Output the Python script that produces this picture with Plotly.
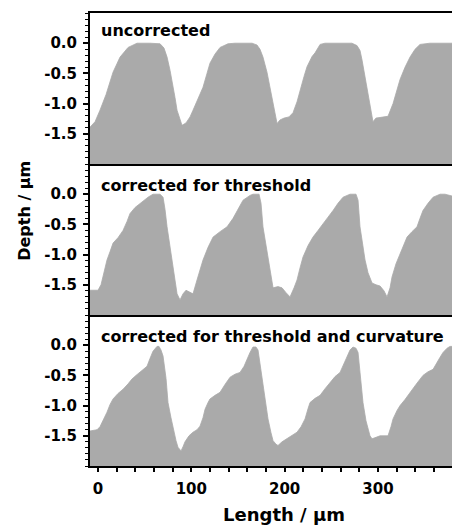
import plotly.graph_objects as go
from plotly.subplots import make_subplots

# ---- data (Length in µm, Depth in µm) ----
x_uncorr = [-8.6, -3.2, 2.1, 8.6, 16.1, 23.6, 32.2, 41.8, 55.7, 66.5, 70.7, 74.0, 77.2, 79.3, 82.5, 84.7,
            87.9, 90.0, 94.3, 98.6, 101.8, 107.2, 112.5, 116.8, 120.0, 125.4, 130.8, 139.3, 146.8, 165.1,
            170.4, 173.6, 176.8, 181.1, 184.3, 188.6, 191.9, 195.1, 199.4, 204.7, 209.0, 213.3, 216.5,
            220.8, 224.0, 229.4, 232.6, 238.0, 243.3, 272.2, 277.6, 280.8, 283.0, 286.2, 288.3, 291.5,
            294.7, 297.9, 304.4, 310.8, 316.2, 320.5, 323.7, 329.0, 334.4, 339.8, 345.1, 355.8, 379.4]
y_uncorr = [-1.39, -1.30, -1.11, -0.85, -0.48, -0.23, -0.07, 0.0, 0.0, -0.01, -0.08, -0.23, -0.45, -0.66,
            -0.90, -1.11, -1.28, -1.36, -1.32, -1.22, -1.11, -0.93, -0.73, -0.50, -0.33, -0.18, -0.07,
            -0.01, 0.0, 0.0, -0.03, -0.10, -0.23, -0.48, -0.73, -1.05, -1.33, -1.27, -1.24, -1.22, -1.15,
            -0.97, -0.78, -0.55, -0.39, -0.22, -0.16, -0.02, 0.0, 0.0, -0.04, -0.12, -0.28, -0.55, -0.78,
            -1.05, -1.30, -1.24, -1.22, -1.21, -1.00, -0.75, -0.60, -0.40, -0.23, -0.10, -0.02, 0.0, 0.0]

x_thresh = [-8.6, 0.0, 3.2, 6.4, 9.6, 12.9, 16.1, 21.4, 26.8, 31.1, 34.3, 39.7, 45.0, 53.6, 58.9, 66.5,
            69.7, 71.8, 74.0, 77.2, 79.3, 82.5, 84.7, 87.9, 91.1, 94.3, 98.6, 101.8, 106.1, 109.3, 112.5,
            117.9, 123.3, 130.8, 138.3, 144.7, 149.0, 155.4, 162.9, 166.1, 172.6, 174.7, 176.8, 180.1,
            182.2, 185.4, 187.6, 192.9, 197.2, 201.5, 205.8, 210.1, 213.3, 216.5, 219.7, 225.1, 230.4,
            235.8, 241.2, 246.5, 251.9, 257.2, 262.6, 270.1, 276.5, 278.7, 280.8, 284.0, 286.2, 289.4,
            293.7, 298.0, 302.3, 306.5, 309.8, 313.0, 315.1, 319.4, 323.7, 328.0, 331.2, 336.5, 341.9,
            345.1, 348.3, 353.7, 359.1, 366.6, 371.9, 379.4]
y_thresh = [-1.59, -1.59, -1.50, -1.30, -1.09, -0.95, -0.81, -0.72, -0.60, -0.45, -0.32, -0.22, -0.15,
            -0.05, 0.0, 0.0, -0.05, -0.25, -0.54, -0.85, -1.09, -1.40, -1.65, -1.75, -1.65, -1.59, -1.62,
            -1.65, -1.42, -1.25, -1.09, -0.88, -0.71, -0.62, -0.54, -0.40, -0.27, -0.10, -0.02, 0.0, 0.0,
            -0.15, -0.54, -0.85, -1.09, -1.35, -1.55, -1.53, -1.55, -1.63, -1.70, -1.55, -1.42, -1.22,
            -1.04, -0.85, -0.71, -0.60, -0.48, -0.38, -0.27, -0.15, -0.05, 0.0, 0.0, -0.10, -0.54, -0.85,
            -1.09, -1.30, -1.47, -1.50, -1.52, -1.60, -1.70, -1.55, -1.37, -1.15, -1.00, -0.82, -0.71,
            -0.62, -0.54, -0.40, -0.27, -0.15, -0.05, 0.0, 0.0, -0.03]

x_curv = [-8.6, -1.1, 2.1, 6.4, 9.6, 12.9, 16.1, 21.4, 26.8, 32.2, 36.4, 40.7, 45.0, 49.3, 52.5, 55.7,
          58.9, 63.2, 65.4, 67.5, 69.7, 72.9, 75.0, 78.2, 80.4, 83.6, 85.7, 89.0, 91.1, 93.2, 97.5, 101.8,
          106.1, 109.3, 112.5, 114.7, 117.9, 120.0, 125.4, 130.8, 136.1, 141.5, 146.8, 152.2, 156.5, 159.7,
          162.9, 166.1, 169.3, 171.5, 173.6, 176.8, 180.1, 182.2, 185.4, 187.6, 190.8, 192.9, 197.2, 202.6,
          207.9, 213.3, 217.6, 221.9, 225.1, 227.2, 232.6, 238.0, 243.3, 248.7, 254.0, 259.4, 263.7, 266.9,
          270.1, 273.3, 276.5, 278.7, 280.8, 284.0, 287.2, 289.4, 291.5, 293.7, 298.0, 302.3, 307.6, 310.8,
          314.0, 316.2, 320.5, 323.7, 329.0, 334.4, 340.8, 348.3, 353.7, 359.1, 363.3, 366.6, 369.8, 374.1,
          377.3, 379.4]
y_curv = [-1.42, -1.40, -1.35, -1.22, -1.11, -0.98, -0.89, -0.80, -0.73, -0.64, -0.56, -0.50, -0.45,
          -0.40, -0.35, -0.22, -0.10, -0.02, -0.02, -0.08, -0.18, -0.55, -0.95, -1.20, -1.38, -1.58, -1.69,
          -1.75, -1.68, -1.60, -1.50, -1.44, -1.40, -1.34, -1.20, -1.06, -0.95, -0.89, -0.83, -0.78, -0.65,
          -0.53, -0.48, -0.45, -0.35, -0.23, -0.12, -0.03, -0.03, -0.08, -0.30, -0.67, -1.00, -1.22, -1.45,
          -1.58, -1.64, -1.66, -1.60, -1.55, -1.50, -1.44, -1.35, -1.22, -1.05, -0.95, -0.88, -0.83, -0.72,
          -0.62, -0.52, -0.45, -0.30, -0.18, -0.08, -0.03, -0.05, -0.12, -0.50, -0.95, -1.25, -1.38, -1.50,
          -1.55, -1.52, -1.50, -1.50, -1.50, -1.35, -1.22, -1.08, -1.00, -0.90, -0.78, -0.65, -0.50, -0.44,
          -0.40, -0.30, -0.20, -0.12, -0.05, -0.02, -0.02]

panel_labels = ["uncorrected", "corrected for threshold", "corrected for threshold and curvature"]
y_tickvals = [0.0, -0.5, -1.0, -1.5]
y_ticktext = ["0.0", "-0.5", "-1.0", "-1.5"]
x_tickvals = [0, 100, 200, 300]
y_floor = -2.0
y_ceil = 0.5
x_range = [-8.6, 379.4]

FILL = "#aaaaaa"
FONT = "DejaVu Sans"

fig = make_subplots(rows=3, cols=1, shared_xaxes=True, vertical_spacing=0)

series = [(x_uncorr, y_uncorr), (x_thresh, y_thresh), (x_curv, y_curv)]
for i, (xs, ys) in enumerate(series, start=1):
    fig.add_trace(go.Scatter(x=xs, y=[y_floor] * len(xs), mode="lines",
                             line=dict(width=0, color=FILL), showlegend=False, hoverinfo="skip"),
                  row=i, col=1)
    fig.add_trace(go.Scatter(x=xs, y=ys, mode="lines", fill="tonexty", fillcolor=FILL,
                             line=dict(width=0.8, color=FILL), showlegend=False),
                  row=i, col=1)

tickfont = dict(family=FONT, size=15, color="black", weight="bold")

for i in range(1, 4):
    fig.update_yaxes(range=[y_floor, y_ceil], tickvals=y_tickvals, ticktext=y_ticktext,
                     showline=True, linecolor="black", linewidth=2,
                     ticks="outside", ticklen=5, tickwidth=1.5, tickcolor="black",
                     minor=dict(tickmode="linear", tick0=0, dtick=0.1, ticks="outside",
                                ticklen=3, tickwidth=1.2, tickcolor="black"),
                     showgrid=False, zeroline=False, tickfont=tickfont,
                     ticklabelstandoff=3, row=i, col=1)
    fig.update_xaxes(range=x_range, showline=True, linecolor="black", linewidth=2,
                     showgrid=False, zeroline=False, row=i, col=1)

fig.update_xaxes(mirror=True, ticks="", showticklabels=False, row=1, col=1)
fig.update_xaxes(ticks="", showticklabels=False, row=2, col=1)
fig.update_xaxes(tickvals=x_tickvals, ticks="outside", ticklen=4, tickwidth=1.5, tickcolor="black",
                 minor=dict(tickmode="linear", tick0=0, dtick=20, ticks="outside", ticklen=4,
                            tickwidth=1.5, tickcolor="black"),
                 showticklabels=True, tickfont=tickfont, ticklabelstandoff=4, row=3, col=1)

# overlay axes giving the inward half of the crossing y ticks
for idx, base in zip([4, 5, 6], ["y", "y2", "y3"]):
    fig.layout["yaxis%d" % idx] = dict(overlaying=base, anchor="x", side="left",
                                       range=[y_floor, y_ceil], tickvals=y_tickvals,
                                       ticks="inside", ticklen=5, tickwidth=1.5, tickcolor="black",
                                       minor=dict(tickmode="linear", tick0=0, dtick=0.1, ticks="inside",
                                                  ticklen=3, tickwidth=1.2, tickcolor="black"),
                                       showticklabels=False, showgrid=False, zeroline=False,
                                       showline=False)

label_y = [0.885, 0.86, 0.855]
for i, (txt, yy) in enumerate(zip(panel_labels, label_y), start=1):
    yref = "y domain" if i == 1 else "y%d domain" % i
    xref = "x domain" if i == 1 else "x%d domain" % i
    fig.add_annotation(text=txt, xref=xref, yref=yref, x=0.025, y=yy, xanchor="left",
                       yanchor="middle", showarrow=False,
                       font=dict(family=FONT, size=16, color="black", weight="bold"))

fig.add_annotation(text="Depth / µm", xref="paper", yref="paper", x=-0.18, y=0.563,
                   textangle=-90, showarrow=False, xanchor="center", yanchor="middle",
                   font=dict(family=FONT, size=16, color="black", weight="bold"))
fig.add_annotation(text="Length / µm", xref="paper", yref="paper", x=0.536, y=-0.108,
                   showarrow=False, xanchor="center", yanchor="middle",
                   font=dict(family=FONT, size=18, color="black", weight="bold"))

fig.update_layout(width=452, height=525, margin=dict(l=90, r=0, t=13, b=59),
                  plot_bgcolor="white", paper_bgcolor="white", showlegend=False)

fig.write_html("out.html", config={"displayModeBar": False},
               post_script="document.body.style.margin='0';document.body.style.overflow='hidden';")
